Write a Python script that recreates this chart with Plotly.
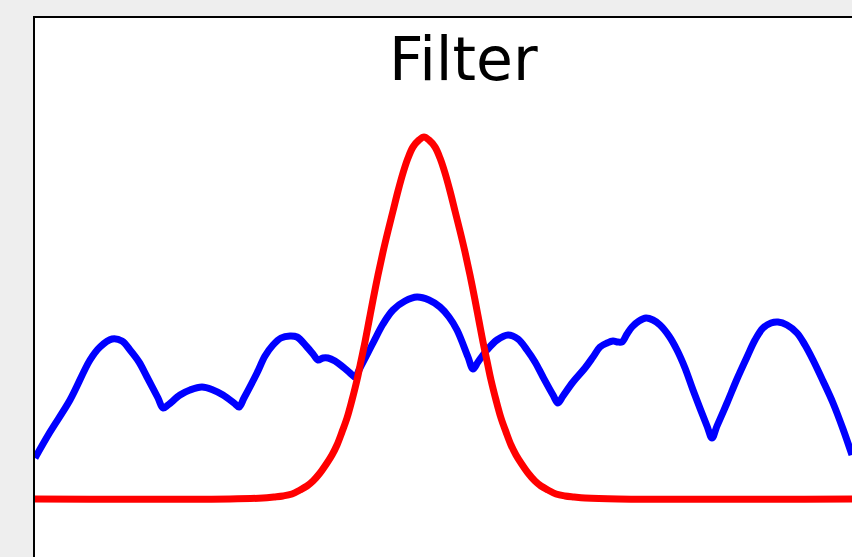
import plotly.graph_objects as go

# Signal (blue): sample position and amplitude
signal_x = [0, 15, 35, 55, 65, 77, 87, 95, 104, 112, 123, 128, 133, 145, 155, 167, 178, 188, 199, 204,
            209, 222, 230, 238, 246, 255, 262, 272, 278, 283, 288, 293, 300, 308, 315, 320, 325, 338,
            348, 358, 370, 382, 394, 405, 414, 422, 433, 438, 443, 452, 462, 473, 483, 492, 500, 508,
            518, 523, 528, 538, 550, 558, 565, 572, 578, 583, 587, 592, 597, 604, 611, 618, 625, 634,
            642, 650, 658, 672, 677, 682, 692, 702, 712, 720, 728, 736, 743, 752, 762, 770, 778, 788,
            798, 808, 817]
signal_y = [41, 67, 99, 139, 152, 160, 158, 149, 137, 122, 101, 91, 94, 104, 109, 112, 109, 104, 96, 92,
            101, 126, 143, 154, 161, 163, 162, 152, 145, 139, 141, 141, 138, 132, 126, 122, 131, 156,
            175, 189, 198, 202, 199, 192, 182, 169, 142, 130, 137, 149, 159, 164, 160, 149, 137, 122,
            104, 96, 103, 117, 131, 142, 152, 156, 158, 157, 157, 165, 172, 178, 181, 179, 174, 163,
            149, 131, 109, 73, 61, 73, 96, 120, 142, 159, 171, 176, 177, 174, 166, 154, 139, 118,
            96, 70, 44]

# Filter (red)
filter_x = [0, 195, 228, 239, 248, 257, 265, 272, 278, 285, 292, 297, 302, 307, 312, 317, 322, 326,
            330, 334, 338, 343, 348, 353, 358, 363, 368, 373, 378, 384, 389, 394, 400, 405, 410, 415,
            420, 425, 430, 435, 440, 444, 448, 452, 456, 461, 466, 471, 476, 481, 486, 493, 500, 506,
            513, 521, 530, 539, 550, 583, 817]
filter_y = [0, 0, 1, 2, 3, 5, 9, 13, 18, 26, 36, 44, 54, 67, 81, 99, 119, 138,
            157, 178, 199, 224, 247, 268, 288, 308, 326, 341, 352, 359, 362, 359, 352, 341, 326, 308,
            288, 268, 247, 224, 199, 178, 157, 138, 119, 99, 81, 67, 54, 44, 36, 26, 18, 13,
            9, 5, 3, 2, 1, 0, 0]

title_text = "Filter"

fig = go.Figure()
fig.add_trace(go.Scatter(x=signal_x, y=signal_y, mode="lines",
                         line=dict(color="#0000ff", width=7, shape="spline", smoothing=1.0),
                         showlegend=False, hoverinfo="skip"))
fig.add_trace(go.Scatter(x=filter_x, y=filter_y, mode="lines",
                         line=dict(color="#ff0000", width=7, shape="spline", smoothing=1.0),
                         showlegend=False, hoverinfo="skip"))

fig.update_layout(
    width=852, height=557,
    margin=dict(l=35, r=0, t=18, b=0, pad=0),
    paper_bgcolor="#eeeeee",
    plot_bgcolor="#ffffff",
    xaxis=dict(range=[0, 817], showgrid=False, zeroline=False, showticklabels=False,
               ticks="", showline=True, linecolor="#000000", linewidth=2, side="top"),
    yaxis=dict(range=[-58, 481], showgrid=False, zeroline=False, showticklabels=False,
               ticks="", showline=True, linecolor="#000000", linewidth=2),
    annotations=[dict(text=title_text, xref="paper", yref="paper", x=0.525, y=0.924,
                      xanchor="center", yanchor="middle", showarrow=False,
                      font=dict(family="DejaVu Sans", size=60, color="#000000"))],
)

fig.write_html("out.html", config={"displayModeBar": False},
               post_script="document.body.style.margin='0';document.body.style.background='#eeeeee';")
